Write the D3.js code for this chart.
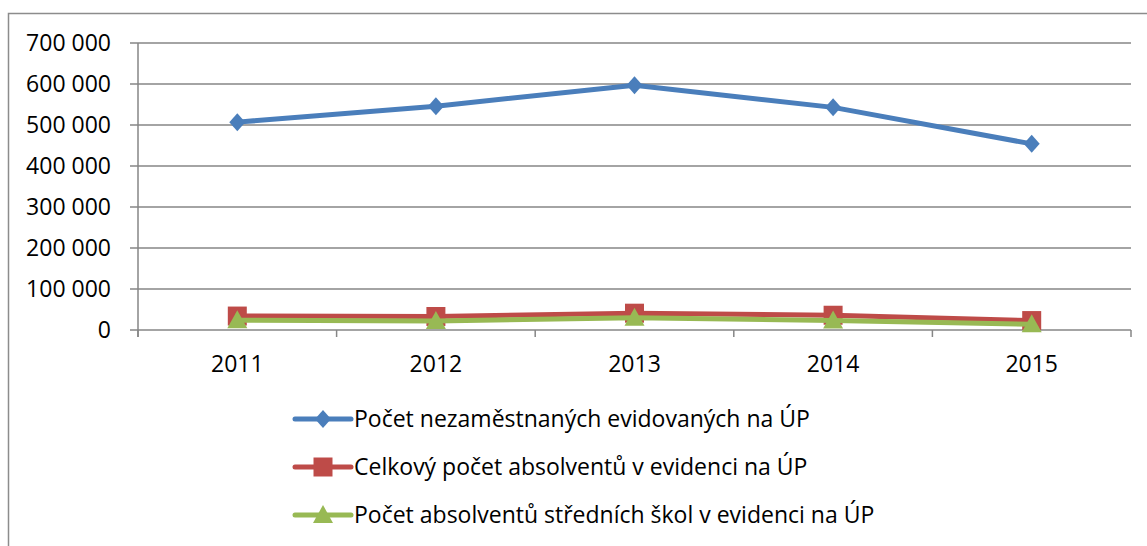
<!DOCTYPE html>
<html>
<head>
<meta charset="utf-8">
<script src="https://cdn.jsdelivr.net/npm/d3@7"></script>
<style>
body { margin: 0; background: #fff; }
text { font-family: "Open Sans", Lato, sans-serif; fill: #000; }
</style>
</head>
<body>
<script>
var w = 1147;
var h = 546;

var years = ["2011", "2012", "2013", "2014", "2015"];
var unemployed = [507000, 546000, 597000, 543000, 454000];
var graduatesTotal = [34000, 33000, 41000, 36000, 23000];
var graduatesSecondary = [24000, 22000, 30000, 23000, 14000];
var yTicks = [0, 100000, 200000, 300000, 400000, 500000, 600000, 700000];
var seriesNames = [
    "Počet nezaměstnaných evidovaných na ÚP",
    "Celkový počet absolventů v evidenci na ÚP",
    "Počet absolventů středních škol v evidenci na ÚP"
];

var series = [
    {name: seriesNames[0], values: unemployed, color: "#4A7EBB", marker: "diamond"},
    {name: seriesNames[1], values: graduatesTotal, color: "#BE4B48", marker: "square"},
    {name: seriesNames[2], values: graduatesSecondary, color: "#98B954", marker: "triangle"}
];

var locale = d3.formatLocale({decimal: ",", thousands: " ", grouping: [3], currency: ["", ""]});
var fmt = locale.format(",");

var plot = {left: 138, right: 1131, top: 43, bottom: 330};
var fontSize = "23px";

var xScale = d3.scaleBand()
    .domain(years)
    .range([plot.left, plot.right]);

var yScale = d3.scaleLinear()
    .domain([0, 700000])
    .range([plot.bottom, plot.top]);

var svg = d3.select("body")
    .append("svg")
    .attr("width", w)
    .attr("height", h);

// chart border (runs off the picture on the right and bottom)
svg.append("rect")
    .attr("x", 8.5)
    .attr("y", 13.5)
    .attr("width", 1200)
    .attr("height", 600)
    .attr("fill", "none")
    .attr("stroke", "#8c8c8c")
    .attr("stroke-width", 1.5);

// gridlines
svg.selectAll("line.grid")
    .data(yTicks)
    .enter()
    .append("line")
    .attr("class", "grid")
    .attr("x1", plot.left - 8)
    .attr("x2", plot.right)
    .attr("y1", function(d){ return yScale(d); })
    .attr("y2", function(d){ return yScale(d); })
    .attr("stroke", "#868686")
    .attr("stroke-width", 1.5);

// y axis
var yAxis = d3.axisLeft(yScale)
    .tickValues(yTicks)
    .tickFormat(fmt)
    .tickSize(0)
    .tickPadding(27);

svg.append("g")
    .attr("transform", "translate(" + plot.left + ",0)")
    .call(yAxis)
    .call(function(g){ g.select(".domain").remove(); })
    .selectAll("text")
    .attr("font-size", fontSize)
    .attr("font-family", "'Open Sans', Lato, sans-serif");

svg.append("line")
    .attr("x1", plot.left).attr("x2", plot.left)
    .attr("y1", plot.top).attr("y2", plot.bottom + 7)
    .attr("stroke", "#868686")
    .attr("stroke-width", 1.5);

// x axis
var tickPos = years.map(function(d){ return xScale(d); }).concat([plot.right]);
svg.selectAll("line.xtick")
    .data(tickPos)
    .enter()
    .append("line")
    .attr("class", "xtick")
    .attr("x1", function(d){ return d; })
    .attr("x2", function(d){ return d; })
    .attr("y1", plot.bottom)
    .attr("y2", plot.bottom + 7)
    .attr("stroke", "#868686")
    .attr("stroke-width", 1.5);

svg.selectAll("text.xlabel")
    .data(years)
    .enter()
    .append("text")
    .attr("class", "xlabel")
    .attr("x", function(d){ return xScale(d) + xScale.bandwidth() / 2; })
    .attr("y", 372)
    .attr("text-anchor", "middle")
    .attr("font-size", fontSize)
    .text(function(d){ return d; });

// markers
function markerPath(type) {
    if (type === "diamond") return "M0,-9L8,0L0,9L-8,0Z";
    if (type === "square") return "M-9.5,-9.5H9.5V9.5H-9.5Z";
    return "M0,-10L10,8H-10Z";
}

var line = d3.line()
    .x(function(d, i){ return xScale(years[i]) + xScale.bandwidth() / 2; })
    .y(function(d){ return yScale(d); });

// red first, then green over it, blue last
var order = [1, 2, 0];
order.forEach(function(k){
    var s = series[k];
    var g = svg.append("g");
    g.append("path")
        .attr("d", line(s.values))
        .attr("fill", "none")
        .attr("stroke", s.color)
        .attr("stroke-width", 5)
        .attr("stroke-linejoin", "round");
    g.selectAll("path.m")
        .data(s.values)
        .enter()
        .append("path")
        .attr("class", "m")
        .attr("d", markerPath(s.marker))
        .attr("transform", function(d, i){
            return "translate(" + (xScale(years[i]) + xScale.bandwidth() / 2) + "," + yScale(d) + ")";
        })
        .attr("fill", s.color);
});

// legend
var legend = svg.selectAll("g.legend")
    .data(series)
    .enter()
    .append("g")
    .attr("class", "legend")
    .attr("transform", function(d, i){ return "translate(0," + (419 + i * 48) + ")"; });

legend.append("line")
    .attr("x1", 295).attr("x2", 351)
    .attr("stroke", function(d){ return d.color; })
    .attr("stroke-width", 5)
    .attr("stroke-linecap", "round");

legend.append("path")
    .attr("d", function(d){ return markerPath(d.marker); })
    .attr("transform", "translate(323,0)")
    .attr("fill", function(d){ return d.color; });

legend.append("text")
    .attr("x", 354)
    .attr("y", 0)
    .attr("dy", "0.35em")
    .attr("font-size", fontSize)
    .text(function(d){ return d.name; });
</script>
</body>
</html>
